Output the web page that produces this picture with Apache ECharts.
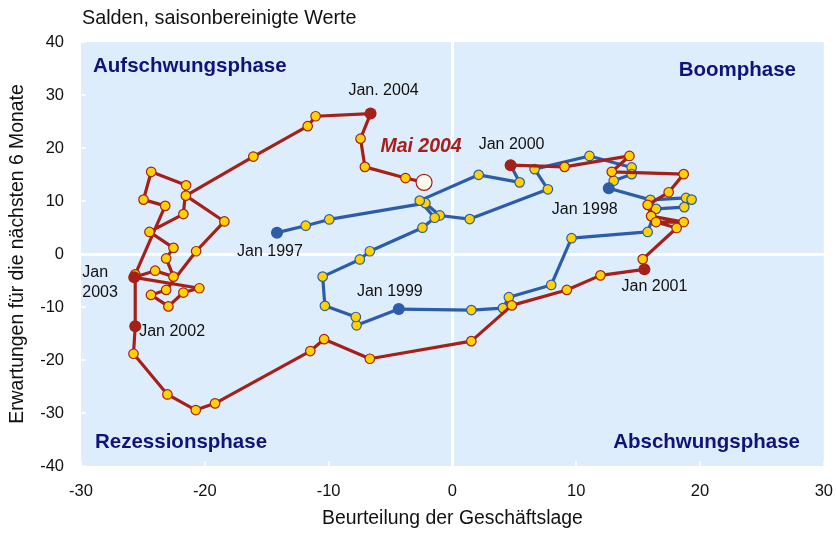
<!DOCTYPE html>
<html><head><meta charset="utf-8">
<script src="https://cdn.jsdelivr.net/npm/echarts@6/dist/echarts.min.js"></script>
<style>html,body{margin:0;padding:0;background:#fff}#c{width:836px;height:533px}</style>
</head><body><div id="c"></div>
<script>
// Beurteilung der Geschäftslage (x) and Erwartungen (y), Jan 1997 .. Jan 2000
const situation1997_1999 = [-14.17,-11.85,-9.95,-2.18,-1.02,1.40,7.71,6.64,11.07,14.48,14.48,13.03,
  12.63,15.99,18.87,19.32,18.73,16.45,15.77,9.62,7.98,4.56,4.08,1.53,
  -4.33,-7.74,-7.80,-10.30,-10.48,-7.48,-6.67,-2.42,-1.43,-2.64,2.12,5.43,4.70];
const expectations1997_1999 = [4.03,5.34,6.52,9.59,7.27,6.59,12.21,16.01,18.50,16.33,15.07,13.82,
  12.40,10.21,10.58,10.26,8.84,8.52,4.16,2.98,-5.84,-8.15,-10.21,-10.58,
  -10.39,-13.45,-11.89,-9.78,-4.27,-1.03,0.52,4.96,6.84,10.07,14.94,13.52,16.76];
// Jan 2000 .. Mai 2004
const situation2000_2004 = [4.70,9.06,14.30,12.87,18.68,17.47,15.77,16.05,18.68,16.45,18.11,15.37,
  15.51,11.96,9.24,4.80,1.53,-6.67,-10.36,-11.48,-19.17,-20.73,-23.02,-25.76,
  -25.62,-25.62,-23.20,-24.95,-24.33,-21.51,-21.73,-24.47,-22.53,-23.12,-22.53,-24.01,
  -25.70,-20.44,-21.73,-22.94,-24.35,-23.12,-20.70,-18.42,-21.53,-16.08,-11.69,-11.05,
  -6.61,-7.42,-7.07,-3.79,-2.29];
const expectations2000_2004 = [16.76,16.44,18.50,15.51,15.07,11.65,9.27,7.15,6.03,6.03,4.91,-0.97,
  -2.90,-4.03,-6.78,-9.70,-16.44,-19.76,-16.07,-18.31,-28.18,-29.44,-26.50,-18.82,
  -13.63,-3.84,9.08,10.26,15.51,12.96,7.53,4.16,1.16,-0.84,-4.27,-3.15,
  -4.40,-6.46,-7.27,-9.89,-7.72,-6.78,0.52,6.14,11.01,18.39,24.12,25.99,
  26.50,21.76,16.44,14.33,13.52];
// labelled months: index into the series and label text
const blueKeyIdx = [0, 12, 24];
const blueKeyNames = ['Jan 1997', 'Jan 1998', 'Jan 1999'];
const redKeyIdx = [0, 12, 24, 36, 48];
const redKeyNames = ['Jan 2000', 'Jan 2001', 'Jan 2002', 'Jan\n2003', 'Jan. 2004'];
const lastIdx = 52;
const lastName = 'Mai 2004';
const quadrantNames = ['Aufschwungsphase', 'Boomphase', 'Rezessionsphase', 'Abschwungsphase'];

const BLUE = '#2D5CA8', RED = '#A52019', YEL = '#FFD200', NAVY = '#12127A';
const FONT = 'Liberation Sans, Arial, sans-serif';

const pairs = (xs, ys) => xs.map((x, i) => [x, ys[i]]);
const blueData = pairs(situation1997_1999, expectations1997_1999);
const redData = pairs(situation2000_2004, expectations2000_2004);

// label layout for the key months (style only)
const blueLabelPos = [
  {position: 'bottom', offset: [-7, 0]},
  {position: 'bottom', offset: [-24, 2]},
  {position: 'top', offset: [-9, 2]}
];
const redLabelPos = [
  {position: 'top', offset: [1, -2]},
  {position: 'bottom', offset: [10, -2]},
  {position: 'right', offset: [-7, 5]},
  {position: [-46, -9], align: 'left', verticalAlign: 'top', lineHeight: 20},
  {position: 'top', offset: [13, -4]}
];

const keyItems = (data, idx, names, pos) => idx.map((k, i) => ({
  value: data[k],
  label: Object.assign({show: true, formatter: names[i], color: '#111', fontSize: 16, fontFamily: FONT}, pos[i])
}));

const chart = echarts.init(document.getElementById('c'), null, {renderer: 'canvas'});
chart.setOption({
  animation: false,
  backgroundColor: '#ffffff',
  grid: {left: 81, right: 11, top: 42, bottom: 64, show: true, backgroundColor: '#DEEDFC', borderWidth: 0},
  xAxis: {
    type: 'value', min: -30, max: 30, interval: 10,
    name: 'Beurteilung der Geschäftslage', nameLocation: 'middle', nameGap: 43,
    nameTextStyle: {fontSize: 19.4, color: '#111', fontFamily: FONT},
    axisLine: {show: false, onZero: false},
    axisTick: {show: true, inside: true, length: 5, lineStyle: {color: '#ffffff', width: 1.5}},
    axisLabel: {fontSize: 16.5, color: '#111', fontFamily: FONT, margin: 17},
    splitLine: {show: false}
  },
  yAxis: {
    type: 'value', min: -40, max: 40, interval: 10,
    name: 'Erwartungen für die nächsten 6 Monate', nameLocation: 'middle', nameGap: 54, nameRotate: 90,
    nameTextStyle: {fontSize: 19.4, color: '#111', fontFamily: FONT},
    axisLine: {show: false, onZero: false},
    axisTick: {show: true, inside: true, length: 5, lineStyle: {color: '#ffffff', width: 1.5}},
    axisLabel: {fontSize: 16.5, color: '#111', fontFamily: FONT, margin: 17},
    splitLine: {show: false}
  },
  graphic: [
    {type: 'text', left: 82, top: 9, style: {text: 'Salden, saisonbereinigte Werte', font: '19.8px ' + FONT, fill: '#111'}},
    {type: 'text', left: 93, top: 56, style: {text: quadrantNames[0], font: 'bold 20.5px ' + FONT, fill: NAVY}},
    {type: 'text', right: 40, top: 60, style: {text: quadrantNames[1], font: 'bold 20.5px ' + FONT, fill: NAVY}},
    {type: 'text', left: 95, top: 432, style: {text: quadrantNames[2], font: 'bold 20.5px ' + FONT, fill: NAVY}},
    {type: 'text', right: 36, top: 432, style: {text: quadrantNames[3], font: 'bold 20.5px ' + FONT, fill: NAVY}}
  ],
  series: [
    {
      type: 'line', data: [], silent: true, z: 1,
      markLine: {silent: true, z: 1, symbol: 'none', label: {show: false}, animation: false,
        lineStyle: {color: '#ffffff', width: 3, type: 'solid', opacity: 1},
        data: [{xAxis: 0}, {yAxis: 0}]}
    },
    {
      type: 'line', data: blueData, z: 3,
      lineStyle: {color: BLUE, width: 3.2},
      symbol: 'circle', symbolSize: 9.5, showSymbol: true,
      itemStyle: {color: YEL, borderColor: BLUE, borderWidth: 1.2, opacity: 1}
    },
    {
      type: 'line', data: redData, z: 4,
      lineStyle: {color: RED, width: 3.2},
      symbol: 'circle', symbolSize: 9.5, showSymbol: true,
      itemStyle: {color: YEL, borderColor: RED, borderWidth: 1.2, opacity: 1}
    },
    {
      type: 'scatter', z: 5, symbolSize: 12,
      itemStyle: {color: BLUE, opacity: 1},
      data: keyItems(blueData, blueKeyIdx, blueKeyNames, blueLabelPos)
    },
    {
      type: 'scatter', z: 6, symbolSize: 12,
      itemStyle: {color: RED, opacity: 1},
      data: keyItems(redData, redKeyIdx, redKeyNames, redLabelPos)
    },
    {
      type: 'scatter', z: 7, symbolSize: 16,
      itemStyle: {color: '#FFFBEA', borderColor: RED, borderWidth: 1.2, opacity: 1},
      data: [{
        value: redData[lastIdx],
        label: {show: true, formatter: lastName, position: 'top', offset: [-3, -12],
          fontSize: 19.5, fontWeight: 'bold', fontStyle: 'italic', color: RED, fontFamily: FONT}
      }]
    }
  ]
});
</script>
</body></html>
